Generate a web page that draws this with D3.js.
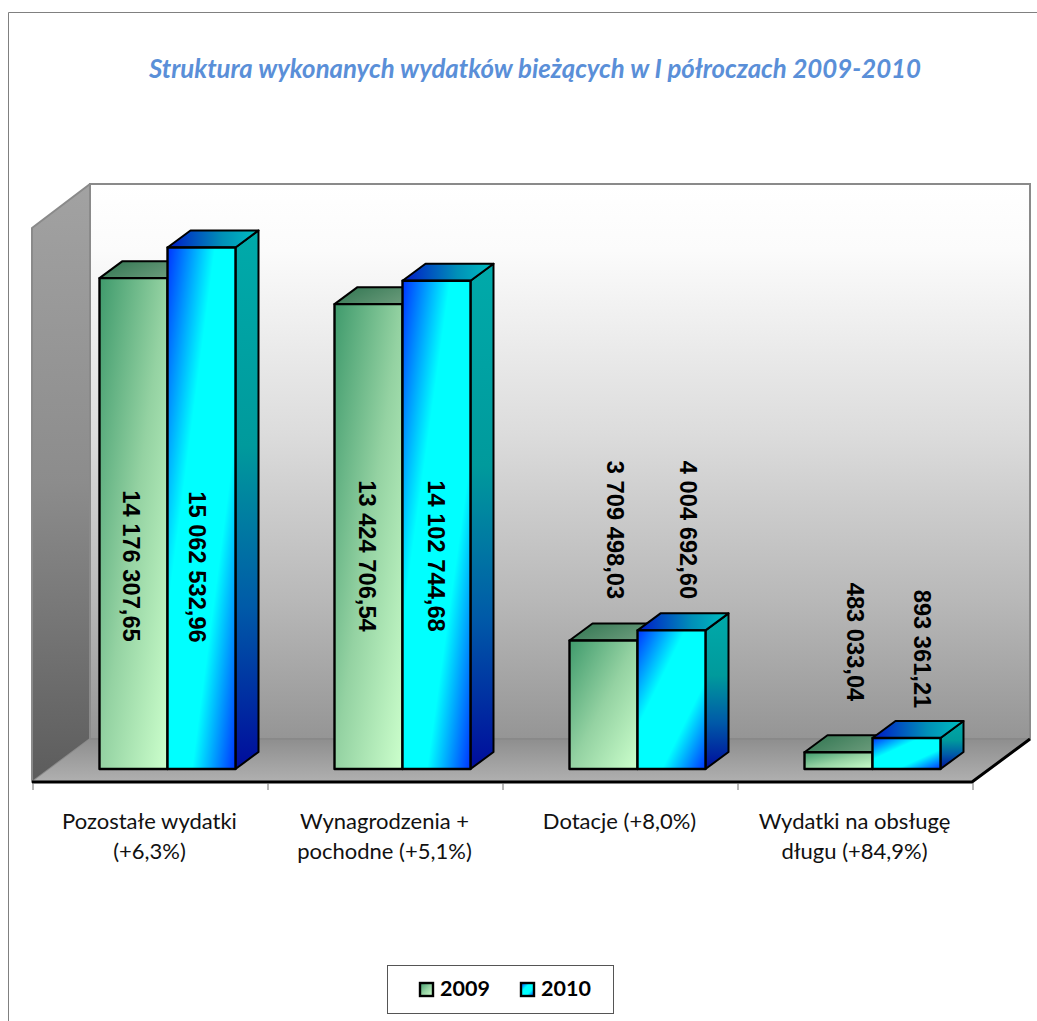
<!DOCTYPE html>
<html><head><meta charset="utf-8">
<script src="https://cdnjs.cloudflare.com/ajax/libs/d3/7.8.5/d3.min.js"></script>
<style>html,body{margin:0;padding:0;background:#fff}svg{display:block}</style>
</head><body><svg id="c" width="1037" height="1021"></svg>
<script>
const categories = [["Pozostałe wydatki","(+6,3%)"],["Wynagrodzenia +","pochodne (+5,1%)"],["Dotacje (+8,0%)"],["Wydatki na obsługę","długu (+84,9%)"]];
const seriesNames = ["2009","2010"];
const values2009 = [14176307.65,13424706.54,3709498.03,483033.04];
const values2010 = [15062532.96,14102744.68,4004692.60,893361.21];
const labels2009 = ["14 176 307,65","13 424 706,54","3 709 498,03","483 033,04"];
const labels2010 = ["15 062 532,96","14 102 744,68","4 004 692,60","893 361,21"];
const titleText = "Struktura wykonanych wydatków bieżących w I półroczach 2009-2010";

// layout
const plot = {x0:33,x1:973,floorY:782,ddx:58,ddy:-43,wallH:554};
const barDepth = {dx:23,dy:-17};
const barBase = 769, barShift = 17;
const labelMidY = [[566,567],[556,556],[530,530],[642,649]];
const labelMidX = [[131,197],[367,436],[615,688],[855,922]];

const svg = d3.select("#c");
const defs = svg.append("defs");
function grad(id,stops,x1=0,y1=0,x2=0,y2=1){
  const g=defs.append("linearGradient").attr("id",id).attr("x1",x1).attr("y1",y1).attr("x2",x2).attr("y2",y2);
  stops.forEach(([o,c])=>g.append("stop").attr("offset",o).attr("stop-color",c));
}
grad("wall",[[0,"#ffffff"],[0.12,"#fbfbfb"],[0.45,"#dcdcdc"],[0.75,"#b8b8b8"],[1,"#959595"]]);
grad("lwall",[[0,"#a2a2a2"],[0.5,"#8c8c8c"],[1,"#5c5c5c"]]);
grad("floor",[[0,"#8e8e8e"],[1,"#b0b0b0"]]);
grad("f0",[[0,"#3f9a6c"],[0.5,"#94d2a2"],[1,"#ccffcc"]],0,0,1,1);
grad("t0",[[0,"#2f7450"],[1,"#6c9c7c"]],0,0,1,.4);
grad("s0",[[0,"#2f7450"],[1,"#6c9c7c"]]);
grad("f1",[[0,"#0033ff"],[0.35,"#00ffff"],[0.68,"#00ffff"],[1,"#0033ff"]],0,0,1,1);
grad("t1",[[0,"#0018c8"],[.6,"#0090b8"],[1,"#00c0c0"]],0,0,1,0);
grad("s1",[[0,"#00aaaa"],[.4,"#009a9c"],[.7,"#005aa8"],[1,"#000c9c"]]);

// chart frame
svg.append("path").attr("d","M8.5 1021V12.5H1037").attr("fill","none").attr("stroke","#808080").attr("stroke-width",1);

// title
svg.append("text").attr("x",535).attr("y",78).attr("text-anchor","middle")
  .attr("font-family","Lato").attr("font-weight","bold").attr("font-style","italic").attr("font-size",25.8)
  .attr("fill","#5a8fd8").text(titleText);

// scales
const x = d3.scaleBand().domain(d3.range(categories.length)).range([plot.x0,plot.x1]);
const xs = d3.scaleBand().domain([0,1]).range([0,136]);
const y = d3.scaleLinear().domain([0,16000000]).range([barBase,barBase-plot.wallH]);

// walls
const wx0=plot.x0+plot.ddx-1, wx1=plot.x1+plot.ddx-1, wBot=plot.floorY+plot.ddy, wTop=wBot-plot.wallH-1;
svg.append("rect").attr("x",wx0).attr("y",wTop).attr("width",wx1-wx0).attr("height",wBot-wTop)
  .attr("fill","url(#wall)").attr("stroke","#8a8a8a").attr("stroke-width",2);
svg.append("path").attr("d",`M${plot.x0-1} ${plot.floorY-554}L${wx0} ${wTop}V${wBot}L${plot.x0-1} ${plot.floorY}Z`)
  .attr("fill","url(#lwall)").attr("stroke","#8a8a8a").attr("stroke-width",2).attr("stroke-linejoin","round");
svg.append("path").attr("d",`M${plot.x0-1} ${plot.floorY}L${wx0} ${wBot}H${wx1}L${plot.x1-1} ${plot.floorY}Z`)
  .attr("fill","url(#floor)");
svg.append("path").attr("d",`M${wx0} ${wBot}H${wx1}`).attr("stroke","#888").attr("stroke-width",1.5).attr("fill","none");
svg.append("path").attr("d",`M${plot.x0-1} ${plot.floorY}H${plot.x1-1}L${wx1} ${wBot}`)
  .attr("stroke","#000").attr("stroke-width",3).attr("fill","none");

// axis ticks
const xTicks = d3.scaleLinear().domain([0,categories.length]).range([plot.x0,plot.x1]);
const ax = svg.append("g").attr("transform",`translate(-0.5,${plot.floorY+1})`)
  .call(d3.axisBottom(xTicks).tickValues(d3.range(categories.length+1)).tickSize(7).tickFormat(""));
ax.select(".domain").remove();
ax.selectAll("line").attr("stroke","#707070");

// category labels
categories.forEach((lines,i)=>{
  const t=svg.append("text").attr("text-anchor","middle").attr("font-family","Lato").attr("font-size",22).attr("fill","#111");
  lines.forEach((l,j)=>t.append("tspan").attr("x",x(i)+x.bandwidth()/2-1).attr("y",829+j*30).text(l));
});

// bars
const data=[values2009,values2010];
categories.forEach((_,i)=>{
  [0,1].forEach(s=>{
    const v=data[s][i], x0=x(i)+x.bandwidth()/2+barShift-68+xs(s), x1=x0+xs.bandwidth(), yt=y(v), yb=y(0);
    const d=barDepth, g=svg.append("g").attr("stroke","#000").attr("stroke-linejoin","round");
    g.append("path").attr("d",`M${x1} ${yb}V${yt}L${x1+d.dx} ${yt+d.dy}V${yb+d.dy}Z`).attr("fill",`url(#s${s})`).attr("stroke-width",2);
    g.append("path").attr("d",`M${x0} ${yt}L${x0+d.dx} ${yt+d.dy}H${x1+d.dx}L${x1} ${yt}Z`).attr("fill",`url(#t${s})`).attr("stroke-width",2);
    g.append("rect").attr("x",x0).attr("y",yt).attr("width",x1-x0).attr("height",yb-yt)
      .attr("fill",`url(#f${s})`).attr("stroke-width",2.4);
  });
});

// data labels
[labels2009,labels2010].forEach((arr,s)=>arr.forEach((txt,i)=>{
  svg.append("text").attr("transform",`translate(${labelMidX[i][s]},${labelMidY[i][s]}) rotate(90)`)
    .attr("text-anchor","middle").attr("dominant-baseline","central")
    .attr("font-family","Liberation Sans").attr("font-weight","bold").attr("font-size",23.7).attr("fill","#000").text(txt);
}));

// legend
svg.append("rect").attr("x",387.5).attr("y",965.5).attr("width",226).attr("height",48).attr("fill","#fff").attr("stroke","#555").attr("stroke-width",1);
const lg=[[420,"f0"],[521,"f1"]];
seriesNames.forEach((n,i)=>{
  svg.append("rect").attr("x",lg[i][0]).attr("y",983).attr("width",13).attr("height",13).attr("fill",`url(#${lg[i][1]})`).attr("stroke","#000").attr("stroke-width",2.4);
  svg.append("text").attr("x",lg[i][0]+20).attr("y",996).attr("font-family","Lato").attr("font-weight","bold").attr("font-size",21.5).attr("fill","#000").text(n);
});
</script></body></html>
